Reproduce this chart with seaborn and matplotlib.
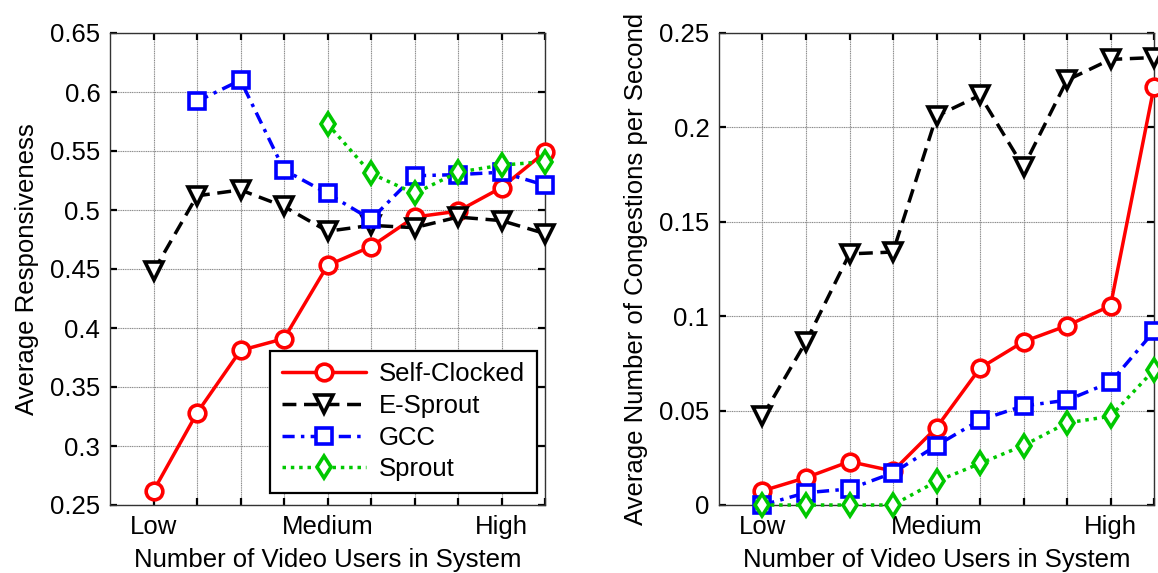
import numpy as np
import pandas as pd
import matplotlib
matplotlib.use("Agg")
import matplotlib.pyplot as plt
import seaborn as sns

# ---- data -------------------------------------------------------------
load_levels = [1, 2, 3, 4, 5, 6, 7, 8, 9, 10]
tick_positions = [1, 5, 9]
tick_labels = ["Low", "Medium", "High"]

# average responsiveness
resp_self_clocked = [0.262, 0.328, 0.381, 0.391, 0.453, 0.469, 0.494, 0.499, 0.519, 0.549]
resp_e_sprout = [0.448, 0.512, 0.517, 0.503, 0.482, 0.487, 0.485, 0.494, 0.491, 0.480]
resp_gcc = [np.nan, 0.592, 0.610, 0.534, 0.514, 0.492, 0.529, 0.530, 0.532, 0.521]
resp_sprout = [np.nan, np.nan, np.nan, np.nan, 0.573, 0.531, 0.514, 0.532, 0.538, 0.541]

# average number of congestions per second
cong_self_clocked = [0.0075, 0.0145, 0.023, 0.018, 0.041, 0.0725, 0.0865, 0.095, 0.1055, 0.2215]
cong_e_sprout = [0.047, 0.0865, 0.133, 0.134, 0.206, 0.217, 0.179, 0.225, 0.236, 0.237]
cong_gcc = [0.0, 0.0065, 0.0085, 0.017, 0.0315, 0.045, 0.0525, 0.0555, 0.065, 0.092]
cong_sprout = [0.0, 0.0, 0.0, 0.0, 0.0125, 0.022, 0.0315, 0.0435, 0.047, 0.0715]

series_names = ["Self-Clocked", "E-Sprout", "GCC", "Sprout"]

# ---- styling ----------------------------------------------------------
sns.set_theme(style="white")
plt.rcParams["font.family"] = ["Liberation Sans", "DejaVu Sans"]
plt.rcParams["text.color"] = "black"
plt.rcParams["axes.labelcolor"] = "black"
plt.rcParams["xtick.color"] = "black"
plt.rcParams["ytick.color"] = "black"
FS = 18.5

styles = {
    "Self-Clocked": dict(color="#ff0000", marker="o", linestyle="-", ms=12),
    "E-Sprout": dict(color="#000000", marker="v", linestyle=(0, (4.0, 2.2)), ms=13),
    "GCC": dict(color="#0000ff", marker="s", linestyle=(0, (3.5, 1.8, 1.0, 1.8)), ms=12),
    "Sprout": dict(color="#00c800", marker="d", linestyle=(0, (1.0, 1.4)), ms=11.5),
}

W, H = 1158, 573
fig = plt.figure(figsize=(W / 100, H / 100), dpi=100)
ax1 = fig.add_axes([110 / W, (H - 505) / H, 435 / W, 472 / H])
ax2 = fig.add_axes([719 / W, (H - 505) / H, 435 / W, 472 / H])


def draw_panel(ax, values, ylim, yticks, ylabel):
    for name, vals in zip(series_names, values):
        st = styles[name]
        df = pd.DataFrame({"x": load_levels, "y": vals}).dropna()
        sns.lineplot(
            data=df, x="x", y="y", ax=ax, label=name,
            color=st["color"], linestyle=st["linestyle"], linewidth=2.5,
            marker=st["marker"], markersize=st["ms"],
            markerfacecolor="white", markeredgecolor=st["color"],
            markeredgewidth=2.6, clip_on=False, zorder=5,
        )
    ax.set_xlim(0, 10)
    ax.set_ylim(*ylim)
    ax.set_yticks(yticks)
    ax.set_yticklabels([f"{t:g}" for t in yticks])
    ax.set_xticks(load_levels)
    ax.set_xticklabels([tick_labels[tick_positions.index(v)] if v in tick_positions else ""
                        for v in load_levels])
    ax.grid(True, color="#8a8a8a", linestyle=(0, (1, 0.6)), linewidth=0.8, zorder=0)
    ax.tick_params(axis="both", which="both", direction="in", length=5, width=1.6,
                   color="black", top=True, right=True, bottom=True, left=True,
                   labelsize=FS, pad=7)
    for sp in ax.spines.values():
        sp.set_color("#333333")
        sp.set_linewidth(1.0)
    ax.set_xlabel("Number of Video Users in System", fontsize=FS, labelpad=7)
    ax.set_ylabel(ylabel, fontsize=FS, labelpad=8)
    ax.set_axisbelow(True)


draw_panel(ax1, [resp_self_clocked, resp_e_sprout, resp_gcc, resp_sprout],
           (0.25, 0.65), np.round(np.arange(0.25, 0.651, 0.05), 2),
           "Average Responsiveness")
draw_panel(ax2, [cong_self_clocked, cong_e_sprout, cong_gcc, cong_sprout],
           (0, 0.25), np.round(np.arange(0, 0.251, 0.05), 2),
           "Average Number of Congestions per Second")

ax2.get_legend().remove()
leg = ax1.legend(loc="lower left", bbox_to_anchor=((270 - 110) / 435, (505 - 493) / 472,
                                                  (537 - 270) / 435, (493 - 335) / 472),
                 mode="expand", fontsize=FS, handlelength=3.3, handletextpad=0.5,
                 borderpad=0.45, labelspacing=0.3, fancybox=False, framealpha=1,
                 edgecolor="black", borderaxespad=0)
leg.get_frame().set_linewidth(1.6)
leg.set_zorder(10)

fig.savefig("out.png", dpi=100)
